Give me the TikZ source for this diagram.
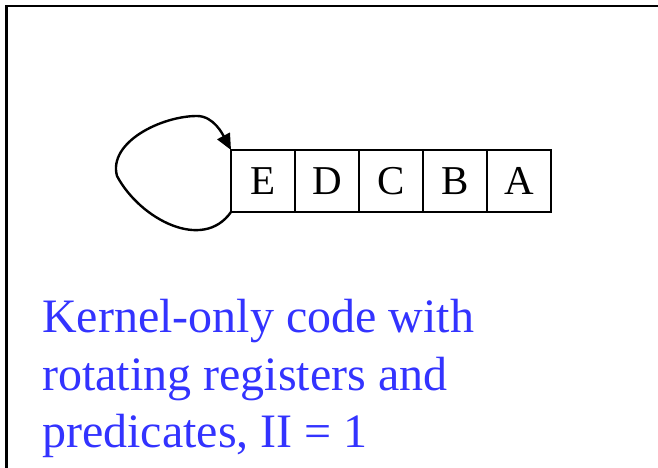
\documentclass[tikz,border=0pt]{standalone}
\usepackage{fontspec}
\setmainfont{Liberation Serif}
\usetikzlibrary{arrows.meta}
\definecolor{txtblue}{RGB}{51,51,255}
\begin{document}
\begin{tikzpicture}[x=1pt,y=1pt,
  cell/.style={draw,line width=1.8pt,minimum width=64pt,minimum height=62pt,inner sep=0pt,outer sep=0pt,font=\fontsize{41}{41}\selectfont},
  caption/.style={text=txtblue,font=\fontsize{48}{57.5}\selectfont,align=left,anchor=north west,inner sep=0pt}]
\useasboundingbox (0,0) rectangle (658,468);
\draw[line width=2.5pt] (6.3,-10) -- (6.3,462) -- (670,462);
\node[cell] (E) at (263,287) {E};
\node[cell,anchor=west] (D) at (E.east) {D};
\node[cell,anchor=west] (C) at (D.east) {C};
\node[cell,anchor=west] (B) at (C.east) {B};
\node[cell,anchor=west] (A) at (B.east) {A};
\coordinate (lp) at (117,292);
\coordinate (tp) at (197,352);
\draw[line width=2.4pt,-{Triangle[length=16pt,width=14pt]}] (E.south west) to[out=-125,in=-62,looseness=1.05] (lp) to[out=105,in=180,looseness=0.9] (tp) to[out=0,in=118,looseness=0.9] (E.north west);
\node[caption] (cap) at (42,169) {Kernel-only code with\\rotating registers and\\predicates, II = 1};
\end{tikzpicture}
\end{document}
